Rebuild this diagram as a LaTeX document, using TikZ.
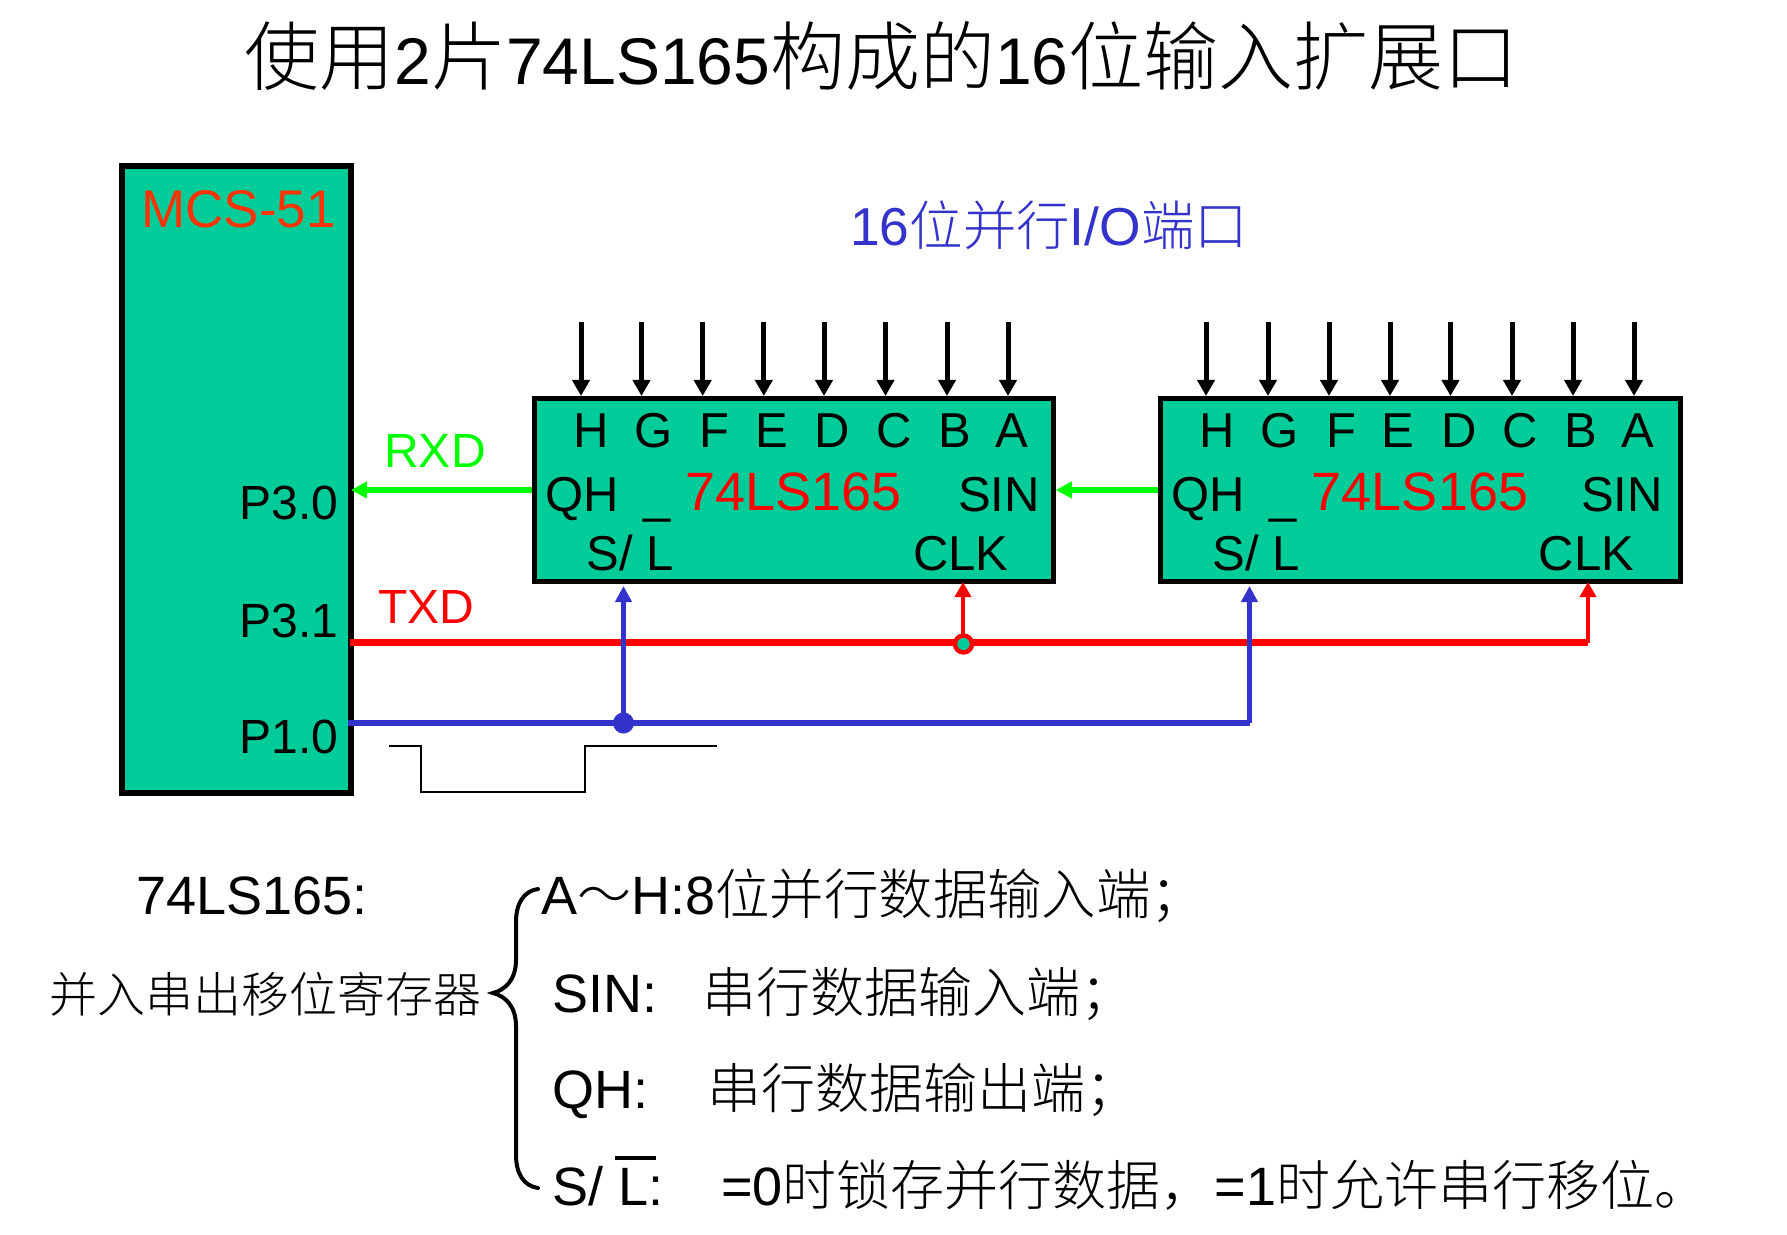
\documentclass[tikz,border=0pt]{standalone}
\usepackage{fontspec}
\usetikzlibrary{arrows.meta,calc}
\setmainfont{Liberation Sans}
\newfontfamily\cjk{Noto Sans CJK SC Light}
\newcommand\zh[1]{{\cjk #1}}
\newcommand\fsz[1]{\fontsize{#1}{#1}\selectfont}
\newcommand\ttl[1]{{\fsz{37.5}\cjk #1}}
\definecolor{chipgreen}{HTML}{00CC99}
\definecolor{wireblue}{HTML}{3333CC}
\definecolor{wirered}{HTML}{FF0000}
\definecolor{wiregreen}{HTML}{00FF00}
\definecolor{mcsred}{HTML}{FF3300}
\tikzset{
  block/.style={draw=black,fill=chipgreen,inner sep=0pt,line width=2.5pt},
  lbl/.style={inner sep=0pt,anchor=base,font=\fsz{24.5}},
  lbl74/.style={inner sep=0pt,anchor=base,text=red,font=\fsz{27}},
  big/.style={inner sep=0pt,anchor=base west,font=\fsz{27}},
  inarrow/.style={line width=2.5pt,-{Triangle[length=8pt,width=8.5pt]}},
  greenwire/.style={draw=wiregreen,line width=3pt,-{Triangle[length=8pt,width=8pt]}},
  redmain/.style={draw=wirered,line width=3.2pt},
  redup/.style={draw=wirered,line width=2.3pt,-{Triangle[length=7.5pt,width=8pt]}},
  bluemain/.style={draw=wireblue,line width=3pt},
  blueup/.style={draw=wireblue,line width=2.5pt,-{Triangle[length=8pt,width=8pt]}},
  pulse/.style={draw=black,line width=1pt},
}
\begin{document}
\begin{tikzpicture}[x=0.5pt,y=-0.5pt]
\useasboundingbox (0,0) rectangle (1787,1235);
% title
\node[inner sep=0pt,anchor=base] (title) at (881.5,85) {\fsz{33}\ttl{使用}2\ttl{片}74LS165\ttl{构成的}16\ttl{位输入扩展口}};
% blocks
\node[block,line width=3pt,minimum width=114.5pt,minimum height=313.5pt] (mcs) at (236.5,479.5) {};
\node[block,minimum width=259.5pt,minimum height=91.5pt] (chipa) at (793.75,490) {};
\node[block,minimum width=260pt,minimum height=91.5pt] (chipb) at (1420.5,490) {};
\node[inner sep=0pt,anchor=base west,text=mcsred,font=\fsz{26.5}] (mcsname) at (141,228) {MCS-51};
\node[inner sep=0pt,anchor=base,text=wireblue,font=\fsz{26.7}] (ioport) at (1049,246) {16\zh{位并行}I/O\zh{端口}};
% port labels
\node[inner sep=0pt,anchor=base east,font=\fsz{24}] (pa) at (339,519) {P3.0};
\node[inner sep=0pt,anchor=base east,font=\fsz{24}] (pb) at (339,637) {P3.1};
\node[inner sep=0pt,anchor=base east,font=\fsz{24}] (pc) at (339,753) {P1.0};
\node[inner sep=0pt,anchor=base,text=wiregreen,font=\fsz{24}] (rxd) at (435,467) {RXD};
\node[inner sep=0pt,anchor=base,text=red,font=\fsz{24}] (txd) at (426,623) {TXD};
% parallel inputs and pin letters, first chip
\foreach \n/\ax/\tx/\t in {1/581/591/H,2/641.5/654/G,3/702.7/714/F,4/763.8/772/E,5/824/832.5/D,6/885.5/894/C,7/947/955/B,8/1008/1012/A}{
  \coordinate (ai\n) at (\ax,322);
  \draw[inarrow] (ai\n) -- (ai\n |- chipa.north);
  \node[lbl] (al\n) at (\tx,447) {\t};
}
% second chip
\foreach \n/\ax/\tx/\t in {1/1206/1217/H,2/1268/1280/G,3/1329/1341/F,4/1390/1398/E,5/1450.5/1459/D,6/1512/1520.5/C,7/1573/1581/B,8/1634/1638/A}{
  \coordinate (bi\n) at (\ax,322);
  \draw[inarrow] (bi\n) -- (bi\n |- chipb.north);
  \node[lbl] (bl\n) at (\tx,447) {\t};
}
% chip texts
\node[lbl] (aqh) at (582.5,511) {QH};
\node[lbl] (aus) at (657,512) {\_};
\node[lbl74] (aname) at (793.5,510.5) {74LS165};
\node[lbl] (asin) at (999,511) {SIN};
\node[lbl] (asl) at (630,570) {S/ L};
\node[lbl] (aclk) at (961,570) {CLK};
\node[lbl] (bqh) at (1208.5,511) {QH};
\node[lbl] (bus) at (1283,512) {\_};
\node[lbl74] (bname) at (1420,510.5) {74LS165};
\node[lbl] (bsin) at (1622,511) {SIN};
\node[lbl] (bsl) at (1256.5,570) {S/ L};
\node[lbl] (bclk) at (1586.5,570) {CLK};
% green data wires
\draw[greenwire] (chipa.west) -- ([xshift=-1.5pt]mcs.east |- chipa.west);
\draw[greenwire] (chipb.west) -- (chipa.east);
% clock (red)
\coordinate (txo) at (350,642.5);
\coordinate (redj) at (963,642.5);
\coordinate (redk) at (1588,642.5);
\coordinate (aclkpin) at (963,582);
\coordinate (bclkpin) at (1588,582);
\draw[redmain] (txo) -- (redj) -- (redk);
\draw[redup] (redj) -- (aclkpin);
\draw[redup] (redk) -- (bclkpin);
\node[circle,draw=wirered,fill=chipgreen,line width=2.2pt,minimum size=8.5pt,inner sep=0pt] (reddot) at (963.5,644) {};
% load (blue)
\coordinate (p1o) at (348,723);
\coordinate (bluj) at (623.5,723);
\coordinate (bluk) at (1249.5,723);
\coordinate (aslpin) at (623.5,586);
\coordinate (bslpin) at (1249.5,586);
\draw[bluemain] (p1o) -- (bluj) -- (bluk);
\draw[blueup] (bluj) -- (aslpin);
\draw[blueup] (bluk) -- (bslpin);
\node[circle,fill=wireblue,minimum size=10.5pt,inner sep=0pt] (bludot) at (623.5,723) {};
% pulse
\draw[pulse] (389,746) -- (421,746) -- (421,792) -- (585,792) -- (585,746) -- (717,746);
% lower left
\node[inner sep=0pt,anchor=base west,font=\fsz{27}] (lstitle) at (136,914) {74LS165:};
\node[inner sep=0pt,anchor=base west,font=\fsz{24}] (lsdesc) at (49,1012) {\zh{并入串出移位寄存器}};
% brace
\draw[line width=2pt,line cap=round] (538,889) .. controls (524,891) and (516,903) .. (516,922)
  -- (516,960) .. controls (516,980) and (505,990) .. (493,993)
  .. controls (505,996) and (516,1006) .. (516,1026)
  -- (516,1155) .. controls (516,1174) and (524,1186) .. (538,1188);
% lower right
\node[big] (ra) at (541,914) {A\zh{～}H:8{\fsz{27.2}\zh{位并行数据输入端；}}};
\node[big] (rb) at (552,1012) {SIN:};
\node[big] (rbb) at (702,1012) {\zh{串行数据输入端；}};
\node[big] (rc) at (552,1108) {QH:};
\node[big] (rcc) at (707,1108) {\zh{串行数据输出端；}};
\node[big] (rd) at (552,1205) {S/ L:};
\node[big] (rdd) at (721,1205) {=0\zh{时锁存并行数据，}=1\zh{时允许串行移位。}};
\draw[line width=2pt] (615,1158) -- (656,1158);
\end{tikzpicture}
\end{document}
